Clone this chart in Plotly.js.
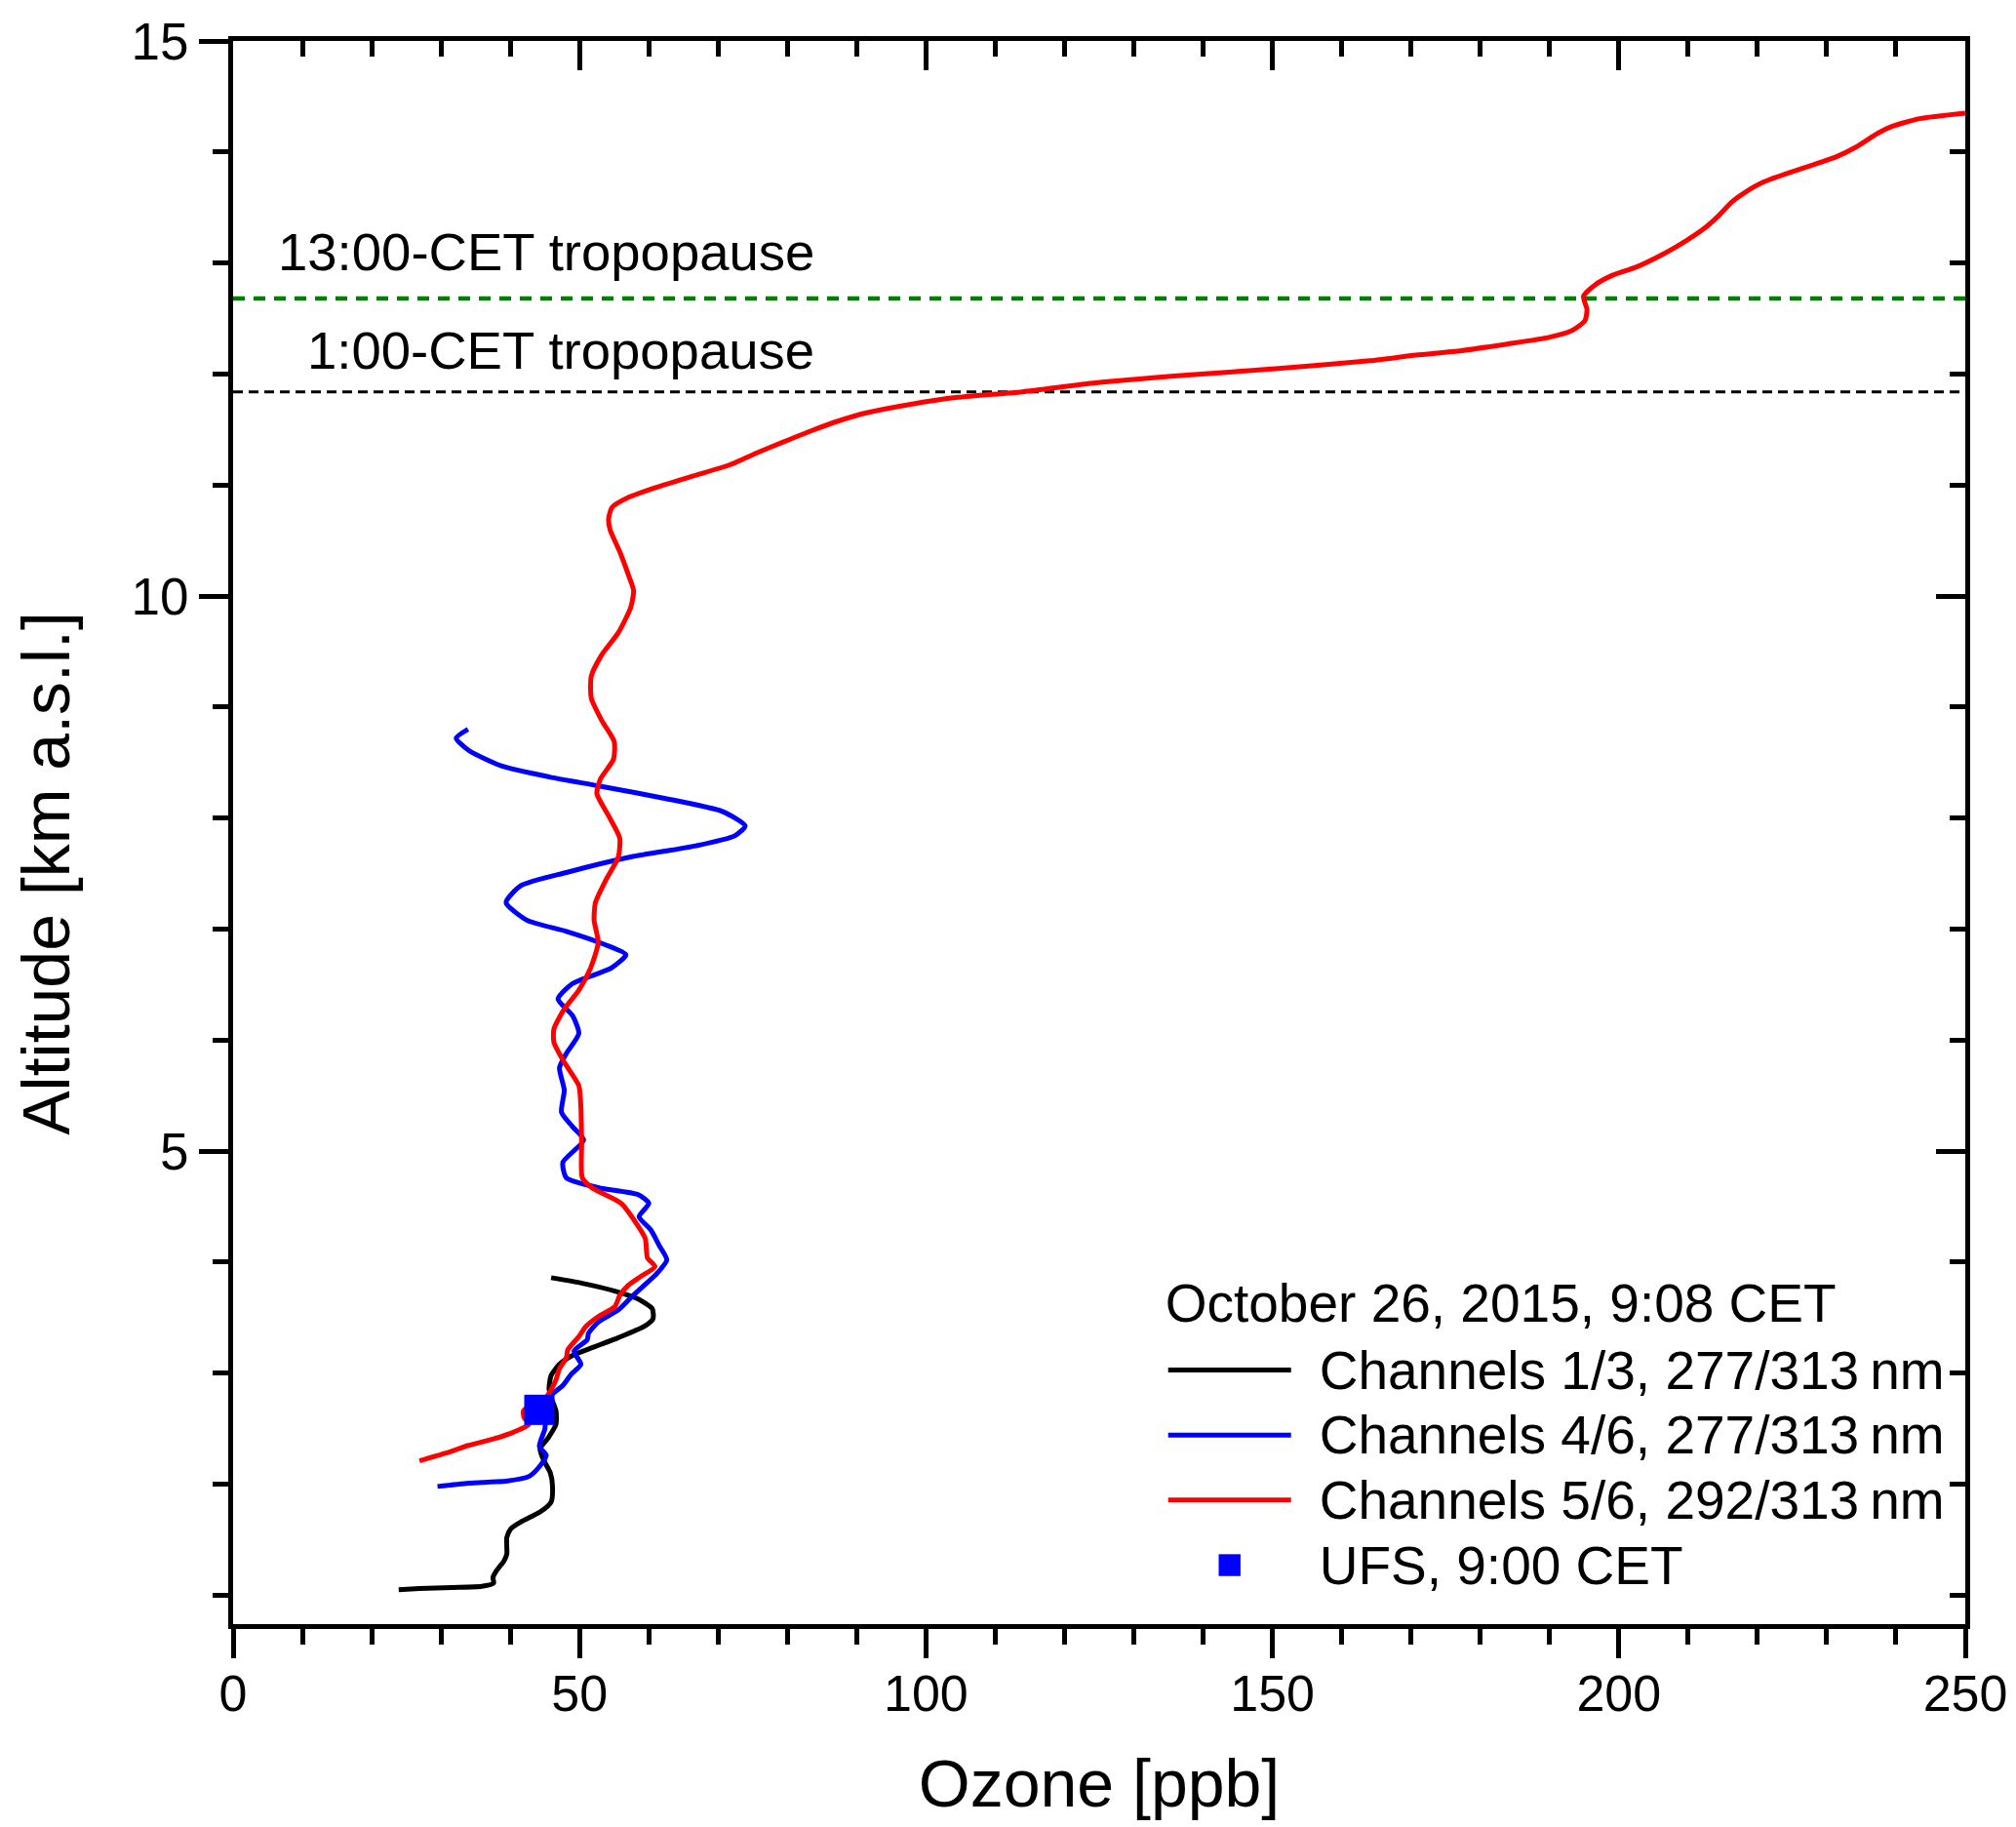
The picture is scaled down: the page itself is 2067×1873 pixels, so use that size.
<!DOCTYPE html>
<html>
<head>
<meta charset="utf-8">
<script src="https://cdn.plot.ly/plotly-3.0.1.min.js"></script>
<style>html,body{margin:0;padding:0;background:#fff;}</style>
</head>
<body>
<div id="chart" style="width:2067px;height:1873px;"></div>
<script>
// ---- Data ----
var legendTitle = 'October 26, 2015, 9:08 CET';
var seriesNames = ['Channels 1/3, 277/313\u2009nm', 'Channels 4/6, 277/313\u2009nm', 'Channels 5/6, 292/313\u2009nm', 'UFS, 9:00 CET'];

var ch13Ozone = [23.9,26.9,31.6,35.9,37.6,37.5,38.0,39.1,39.5,39.5,40.1,41.5,44.3,45.9,46.1,45.8,44.8,44.3,45.5,46.6,46.6,45.9,45.6,45.9,47.1,49.0,51.8,55.6,59.3,60.6,60.5,58.4,55.1,50.4,45.9];
var ch13Alt   = [1.05,1.06,1.07,1.08,1.11,1.16,1.22,1.31,1.37,1.52,1.60,1.66,1.75,1.84,1.98,2.10,2.22,2.32,2.42,2.54,2.66,2.78,2.86,2.98,3.08,3.16,3.23,3.32,3.42,3.49,3.58,3.67,3.74,3.81,3.86];

var ch46Ozone = [29.5,34.0,39.6,42.7,44.1,45.2,44.2,45.0,45.2,45.9,47.6,48.8,50.2,49.2,51.1,51.3,52.7,55.6,57.4,59.3,61.2,62.6,61.5,60.3,58.6,60.0,58.4,52.8,48.1,47.6,50.6,49.0,47.4,47.8,47.1,48.1,49.9,49.0,46.9,49.0,54.6,56.7,53.7,48.1,42.4,39.4,41.5,48.1,57.4,66.8,72.4,73.9,70.6,62.1,52.8,45.7,38.7,34.0,32.2,33.9];
var ch46Alt   = [1.98,2.01,2.03,2.07,2.15,2.26,2.34,2.50,2.69,2.80,2.89,2.99,3.08,3.20,3.30,3.36,3.46,3.57,3.68,3.79,3.90,4.02,4.15,4.29,4.41,4.53,4.61,4.67,4.76,4.90,5.10,5.22,5.35,5.55,5.75,5.88,6.06,6.22,6.37,6.51,6.65,6.77,6.86,6.98,7.08,7.24,7.39,7.51,7.65,7.75,7.84,7.93,8.06,8.18,8.29,8.37,8.47,8.61,8.72,8.80];

var ch56Ozone = [26.9,30.7,34.0,37.7,40.5,42.7,42.0,41.9,43.0,44.8,45.7,46.6,47.1,48.1,48.3,49.9,50.9,52.7,55.1,55.8,57.0,58.8,60.9,59.8,59.5,58.4,56.0,51.8,50.4,50.3,50.2,49.9,47.8,46.3,46.3,47.8,49.9,51.6,52.7,52.1,52.3,53.7,55.6,55.8,54.2,52.5,53.0,54.9,55.0,53.2,51.7,51.7,53.2,55.6,57.4,57.8,57.0,55.8,54.4,54.2,54.7,57.1,61.1,66.3,71.6,75.6,79.5,83.5,87.5,91.4,98.0,104.6,113.9,124.5,137.7,150.9,164.1,170.7,177.3,183.9,189.9,193.2,195.1,195.4,194.9,196.5,199.1,202.4,206.4,209.7,212.3,214.3,216.3,218.3,220.9,224.9,228.8,231.5,234.1,237.4,239.4,243.4,250.0];
var ch56Alt   = [2.21,2.28,2.35,2.41,2.47,2.54,2.60,2.66,2.71,2.75,2.83,2.94,3.04,3.14,3.21,3.33,3.42,3.51,3.60,3.70,3.79,3.87,3.96,4.04,4.21,4.33,4.53,4.67,4.76,5.08,5.39,5.59,5.80,5.98,6.10,6.28,6.45,6.65,6.88,7.08,7.24,7.43,7.65,7.82,8.02,8.22,8.35,8.53,8.69,8.88,9.08,9.28,9.47,9.67,9.90,10.05,10.20,10.40,10.60,10.70,10.80,10.89,10.98,11.08,11.18,11.29,11.39,11.49,11.58,11.65,11.73,11.79,11.84,11.92,11.99,12.05,12.12,12.17,12.21,12.27,12.33,12.39,12.48,12.58,12.70,12.80,12.89,12.96,13.08,13.20,13.31,13.42,13.55,13.64,13.73,13.82,13.90,13.96,14.04,14.17,14.23,14.30,14.35];

var ufsOzone = [44.2];
var ufsAlt   = [2.67];

var tropoLabels = ['13:00-CET tropopause', '1:00-CET tropopause'];
var tropoAlt    = [12.68, 11.84];
var tropoSpan   = [0, 250];
var tropoLabelX = 84.2;
var tropoLabelAlt = [13.10, 12.21];

var xRange = [0, 250];
var yRange = [0.74, 15];

// ---- Traces ----
var FONT = 'Liberation Sans, Arial, sans-serif';
function big(t) { return '<span style="font-size:55px">' + t + '</span>'; }

var traces = [
  {x: tropoSpan, y: [tropoAlt[0], tropoAlt[0]], mode: 'lines', showlegend: false, hoverinfo: 'skip',
   line: {color: '#008000', width: 4.5, dash: '12px,9px'}},
  {x: tropoSpan, y: [tropoAlt[1], tropoAlt[1]], mode: 'lines', showlegend: false, hoverinfo: 'skip',
   line: {color: '#000000', width: 3, dash: '10px,6px'}},
  {x: ch13Ozone, y: ch13Alt, mode: 'lines', name: big(seriesNames[0]), line: {color: '#000000', width: 5, shape: 'spline', smoothing: 0.6}},
  {x: ch46Ozone, y: ch46Alt, mode: 'lines', name: big(seriesNames[1]), line: {color: '#0000ff', width: 5, shape: 'spline', smoothing: 0.6}},
  {x: ch56Ozone, y: ch56Alt, mode: 'lines', name: big(seriesNames[2]), line: {color: '#ff0000', width: 5, shape: 'spline', smoothing: 0.6}},
  {x: ufsOzone, y: ufsAlt, mode: 'markers', name: big(seriesNames[3]), marker: {symbol: 'square', size: 31, color: '#0000ff'}},
  {x: [], y: [], xaxis: 'x2', yaxis: 'y2', showlegend: false, hoverinfo: 'skip'}
];

var annotations = tropoLabels.map(function (t, i) {
  return {x: tropoLabelX, y: tropoLabelAlt[i], xref: 'x', yref: 'y', text: t, showarrow: false,
          xanchor: 'right', yanchor: 'middle', font: {family: FONT, size: 54.5, color: '#000'}};
});

var axisCommon = {
  showline: true, linecolor: '#000', linewidth: 5, showgrid: false, zeroline: false,
  tickcolor: '#000', tickwidth: 5, ticklen: 30, mirror: false
};

var layout = {
  width: 2067, height: 1873,
  margin: {l: 239, r: 52, t: 42, b: 208},
  paper_bgcolor: '#fff', plot_bgcolor: '#fff',
  font: {family: FONT, size: 52, color: '#000'},
  showlegend: true,
  legend: {
    x: 0.537, y: 0.235, xanchor: 'left', yanchor: 'top',
    bgcolor: 'rgba(0,0,0,0)', borderwidth: 0,
    font: {family: FONT, size: 49, color: '#000'},
    title: {text: legendTitle, font: {family: FONT, size: 55, color: '#000'}},
    itemwidth: 126, tracegroupgap: 0
  },
  xaxis: Object.assign({}, axisCommon, {
    range: xRange, tick0: 0, dtick: 50, ticks: 'outside',
    minor: {dtick: 10, ticks: 'outside', ticklen: 16, tickwidth: 5, tickcolor: '#000'},
    tickfont: {family: FONT, size: 52, color: '#000'}, ticklabelstandoff: -8,
    title: {text: 'Ozone [ppb]', font: {family: FONT, size: 68, color: '#000'}, standoff: 41}
  }),
  yaxis: Object.assign({}, axisCommon, {
    range: yRange, tick0: 0, dtick: 5, ticks: 'outside',
    minor: {dtick: 1, ticks: 'outside', ticklen: 16, tickwidth: 5, tickcolor: '#000'},
    tickfont: {family: FONT, size: 53, color: '#000'},
    title: {text: 'Altitude [km a.s.l.]', font: {family: FONT, size: 68, color: '#000'}, standoff: 42}
  }),
  xaxis2: Object.assign({}, axisCommon, {
    overlaying: 'x', side: 'top', anchor: 'y2', range: xRange, tick0: 0, dtick: 50,
    ticks: 'inside', showticklabels: false,
    minor: {dtick: 10, ticks: 'inside', ticklen: 16, tickwidth: 5, tickcolor: '#000'}
  }),
  yaxis2: Object.assign({}, axisCommon, {
    overlaying: 'y', side: 'right', anchor: 'x2', range: yRange, tick0: 0, dtick: 5,
    ticks: 'inside', showticklabels: false,
    minor: {dtick: 1, ticks: 'inside', ticklen: 16, tickwidth: 5, tickcolor: '#000'}
  }),
  annotations: annotations
};

Plotly.newPlot('chart', traces, layout, {staticPlot: true, displayModeBar: false}).then(function (gd) {
  // cosmetic legend tweaks to follow the original: no clipping, a gap after the sample lines,
  // a little more room under the legend title, and a larger sample square
  gd.querySelectorAll('.legend .scrollbox, .legend').forEach(function (g) { g.removeAttribute('clip-path'); });
  gd.querySelectorAll('.legend .traces').forEach(function (tr) {
    var m = /translate\(\s*([-\d.e]+)[ ,]+([-\d.e]+)\s*\)/.exec(tr.getAttribute('transform') || '');
    if (m) tr.setAttribute('transform', 'translate(' + m[1] + ',' + (parseFloat(m[2]) + 11) + ')');
  });
  gd.querySelectorAll('.legend .traces .legendtext').forEach(function (t) {
    t.setAttribute('transform', 'translate(24,0)');
  });
  gd.querySelectorAll('.legend .legendpoints path.scatterpts').forEach(function (p) {
    var tf = p.getAttribute('transform') || '';
    p.setAttribute('transform', tf + ' scale(1.4)');
  });
  // the original centres the y title a little below the plot centre
  var yt = gd.querySelector('.g-ytitle');
  if (yt) yt.setAttribute('transform', 'translate(0,42)');
});
</script>
</body>
</html>
